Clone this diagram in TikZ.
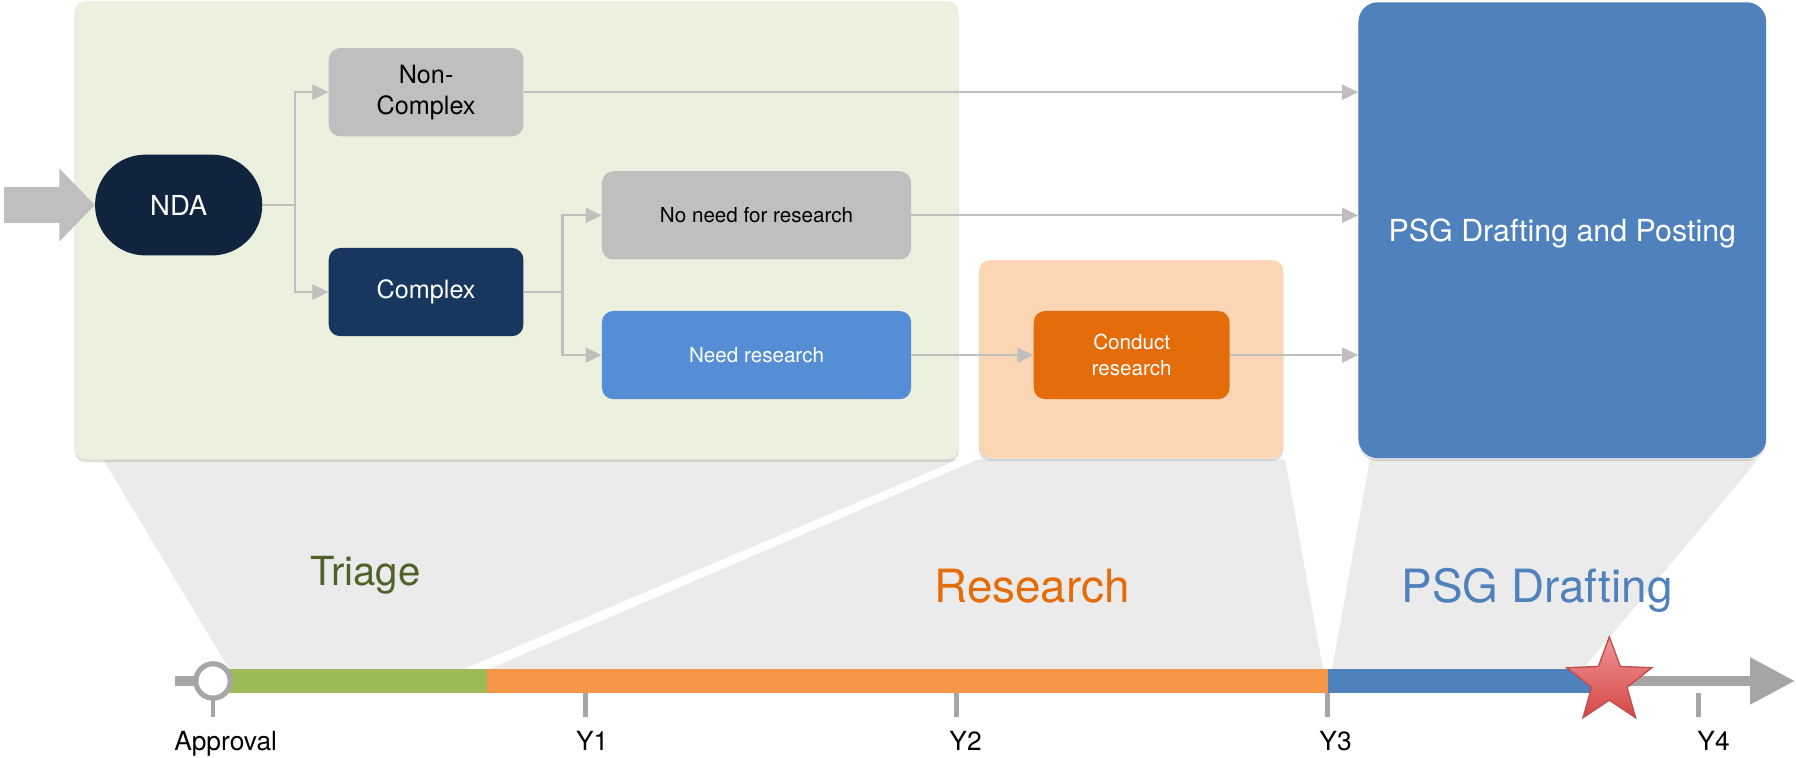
\documentclass[tikz,border=0pt]{standalone}
\usepackage{fontspec}
\setmainfont{TeX Gyre Heros}
\usetikzlibrary{arrows.meta,shapes.geometric,shadows}

\definecolor{linegray}{HTML}{BFBFBF}
\definecolor{tlgray}{HTML}{A6A6A6}
\definecolor{trapgray}{HTML}{EBEBEB}
\definecolor{triagebg}{HTML}{EBF1DE}
\definecolor{resbg}{HTML}{FCD5B5}
\definecolor{psgblue}{HTML}{4F81BD}
\definecolor{ndanavy}{HTML}{10243E}
\definecolor{cxnavy}{HTML}{17375E}
\definecolor{needblue}{HTML}{558ED5}
\definecolor{conductorange}{HTML}{E46C0A}
\definecolor{triagetxt}{HTML}{4F6228}
\definecolor{bargreen}{HTML}{9BBB59}
\definecolor{barorange}{HTML}{F79646}
\definecolor{startop}{HTML}{F29494}
\definecolor{starbot}{HTML}{D44848}
\definecolor{starline}{HTML}{C0504D}

\begin{document}
\begin{tikzpicture}[x=1pt,y=-1pt,
    box/.style={rounded corners=10pt, minimum width=170pt, minimum height=77pt,
        inner sep=2pt, align=center, font=\fontsize{22}{27}\selectfont},
    smallbox/.style={box, font=\fontsize{18}{22.5}\selectfont},
    stage/.style={rounded corners=10pt, inner sep=0pt,
        drop shadow={shadow xshift=0pt,shadow yshift=-2.5pt,opacity=0.25}},
    conn/.style={draw=linegray, line width=2pt, -{Triangle[length=14pt,width=13pt]}},
    tickline/.style={draw=tlgray, line width=4pt},
    ylabel/.style={anchor=base, font=\fontsize{23}{27}\selectfont},
    phase/.style={anchor=base, font=\fontsize{40}{46}\selectfont}]
    \useasboundingbox (0,0) rectangle (1568,661);

    % shaded funnels from the stage boxes down to the timeline
    \fill[trapgray] (90,401) -- (837,401) -- (405,584) -- (200,584) -- cycle;
    \fill[trapgray] (854,401) -- (1122,401) -- (1155,584) -- (427,584) -- cycle;
    \fill[trapgray] (1196,401) -- (1535,401) -- (1382,584) -- (1163,584) -- cycle;

    % stage boxes
    \node[stage, fill=triagebg, minimum width=772pt, minimum height=400pt] (triage) at (451,201) {};
    \node[stage, fill=resbg, minimum width=266pt, minimum height=173pt] (resstage) at (987.5,313.5) {};
    \node[stage, fill=psgblue, rounded corners=17pt, minimum width=356pt, minimum height=398pt,
        text=white, text depth=0pt, font=\fontsize{26.5}{30}\selectfont] (psg) at (1364,201) {PSG Drafting and Posting};

    % triage flow
    \node[box, fill=ndanavy, text=white, rounded corners=44pt, minimum width=146pt,
        minimum height=88pt, font=\fontsize{24}{28}\selectfont] (nda) at (156,179) {NDA};
    \node[box, fill=linegray] (noncx) at (372,80.5) {Non-\\Complex};
    \node[box, fill=cxnavy, text=white] (cx) at (372,255) {Complex};
    \node[smallbox, fill=linegray, minimum width=270pt] (nonres) at (660.5,188) {No need for research};
    \node[smallbox, fill=needblue, text=white, minimum width=270pt] (needres) at (660.5,310) {Need research};
    \node[smallbox, fill=conductorange, text=white, minimum width=171pt] (conduct) at (988,310) {Conduct\\research};

    % incoming arrow
    \coordinate (feed) at (3.5,179);
    \draw[draw=linegray, line width=32pt, -{Triangle[length=31pt,width=62pt]}] (feed) -- (nda.west);

    % connectors
    \draw[conn] (nda.east) -- ++(28.5,0) |- (noncx.west);
    \draw[conn] (nda.east) -- ++(28.5,0) |- (cx.west);
    \draw[conn] (cx.east) -- ++(34,0) |- (nonres.west);
    \draw[conn] (cx.east) -- ++(34,0) |- (needres.west);
    \draw[conn] (noncx.east) -- (noncx.east -| psg.west);
    \draw[conn] (nonres.east) -- (nonres.east -| psg.west);
    \draw[conn] (needres) -- (conduct);
    \draw[conn] (conduct.east) -- (conduct.east -| psg.west);

    % timeline
    \coordinate (tlstart) at (153,594.5);
    \coordinate (tlend) at (1567,594.5);
    \draw[draw=tlgray, line width=8pt, -{Triangle[length=39pt,width=39pt]}] (tlstart) -- (tlend);
    \fill[bargreen] (200,584) rectangle (425,605);
    \fill[barorange] (425,584) rectangle (1159,605);
    \fill[psgblue] (1159,584) rectangle (1405,605);
    \foreach \x in {186,511,835,1159,1483}
        \draw[tickline] (\x,605) -- (\x,626);
    \node[circle, draw=tlgray, line width=4.5pt, fill=white, minimum size=30pt, inner sep=0pt] (appr) at (186,594.5) {};
    \node[star, star points=5, star point ratio=2.4, minimum size=78pt, inner sep=0pt,
        draw=starline, line width=1.2pt, top color=startop, bottom color=starbot] (goal) at (1405,595) {};

    % timeline labels
    \node[ylabel] (lappr) at (197,655) {Approval};
    \node[ylabel] (ly1) at (517,655) {Y1};
    \node[ylabel] (ly2) at (843,655) {Y2};
    \node[ylabel] (ly3) at (1166,655) {Y3};
    \node[ylabel] (ly4) at (1496,655) {Y4};

    % phase labels
    \node[phase, text=triagetxt, font=\fontsize{35}{40}\selectfont] (ltriage) at (319,511) {Triage};
    \node[phase, text=conductorange] (lres) at (901,525.6) {Research};
    \node[phase, text=psgblue] (lpsg) at (1342,525.6) {PSG Drafting};
\end{tikzpicture}
\end{document}
